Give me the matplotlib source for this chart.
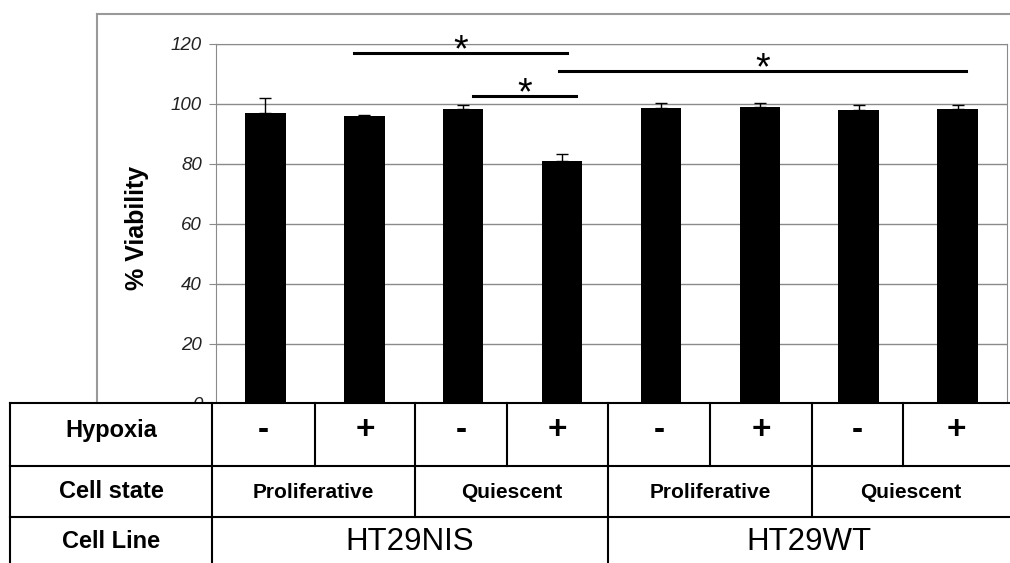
import numpy as np
import matplotlib.pyplot as plt
from matplotlib.patches import Rectangle

plt.rcParams['font.family'] = ['Liberation Sans', 'DejaVu Sans']

# data
viability = [97.0, 96.0, 98.4, 81.0, 98.8, 99.1, 97.9, 98.3]
errors = [5.0, 0.3, 1.3, 2.3, 1.7, 1.4, 1.7, 1.4]
hypoxia = ['-', '+', '-', '+', '-', '+', '-', '+']
cell_state = ['Proliferative', 'Quiescent', 'Proliferative', 'Quiescent']
cell_line = ['HT29NIS', 'HT29WT']
row_names = ['Hypoxia', 'Cell state', 'Cell Line']
yticks = [0, 20, 40, 60, 80, 100, 120]
# significance bars (start, end in bar index units, height in %)
sig_start = [0.9, 2.1, 2.97]
sig_end = [3.05, 3.14, 7.09]
sig_y = [116.9, 102.8, 111.0]

W, H = 1010, 563
fig = plt.figure(figsize=(W / 100, H / 100), dpi=100)
ax = fig.add_axes([216 / W, 1 - 404 / H, 791 / W, 360 / H])

x = np.arange(len(viability))
ax.bar(x, viability, width=0.41, color='black', zorder=3)
ax.errorbar(x, viability, yerr=[np.zeros(len(errors)), errors], fmt='none',
            ecolor='black', elinewidth=1, capsize=4, capthick=1, zorder=4)
ax.set_xlim(-0.5, 7.5)
ax.set_ylim(0, 120)
ax.set_yticks(yticks)
ax.set_xticks([])
ax.yaxis.grid(True, color='#8a8a8a', lw=1)
ax.set_axisbelow(True)
for s in ax.spines.values():
    s.set_color('#8a8a8a')
ax.tick_params(axis='y', length=5, color='#8a8a8a', labelsize=13.5,
               labelcolor='#222222', pad=5)
for lab in ax.get_yticklabels():
    lab.set_fontstyle('italic')
ax.set_ylabel('% Viability', fontsize=18, fontweight='bold')
ax.yaxis.set_label_coords(-0.085, 0.49)

for s, e, y in zip(sig_start, sig_end, sig_y):
    ax.plot([s, e], [y, y], color='black', lw=2.2, clip_on=False, zorder=5)
    ax.text((s + e) / 2, y - 2.8, '*', ha='center', va='baseline', fontsize=27)

# overlay in pixel units for the outer frame and the table
ov = fig.add_axes([0, 0, 1, 1], zorder=10)
ov.set_xlim(0, W)
ov.set_ylim(H, 0)
ov.axis('off')
ov.plot([97, 97], [14, 403], color='#999999', lw=1.5)
ov.plot([97, W], [14, 14], color='#999999', lw=1.5)

ov.add_patch(Rectangle((10, 403), W - 10, H - 403, facecolor='white', edgecolor='none'))
lc = dict(color='black', lw=1.5)
for y in [403, 466, 517]:
    ov.plot([10, W], [y, y], **lc)
ov.plot([10, 10], [403, H], **lc)
ov.plot([212, 212], [403, H], **lc)

hyp_edges = [212, 315, 415, 507, 608, 710, 812, 903, W]
state_edges = [212, 415, 608, 812, W]
line_edges = [212, 608, W]
for xe in hyp_edges[1:-1]:
    ov.plot([xe, xe], [403, 466], **lc)
for xe in state_edges[1:-1]:
    ov.plot([xe, xe], [466, 517], **lc)
for xe in line_edges[1:-1]:
    ov.plot([xe, xe], [517, H], **lc)

row_y = [430, 492, 542]
for name, y in zip(row_names, row_y):
    ov.text(111, y, name, ha='center', va='center', fontsize=17, fontweight='bold')
for i, t in enumerate(hypoxia):
    ov.text((hyp_edges[i] + hyp_edges[i + 1]) / 2, row_y[0], t, ha='center',
            va='center', fontsize=24, fontweight='bold')
for i, t in enumerate(cell_state):
    ov.text((state_edges[i] + state_edges[i + 1]) / 2, row_y[1], t, ha='center',
            va='center', fontsize=15, fontweight='bold')
for i, t in enumerate(cell_line):
    ov.text((line_edges[i] + line_edges[i + 1]) / 2, row_y[2], t, ha='center',
            va='center', fontsize=22.5)

fig.savefig('out.png', dpi=100)
